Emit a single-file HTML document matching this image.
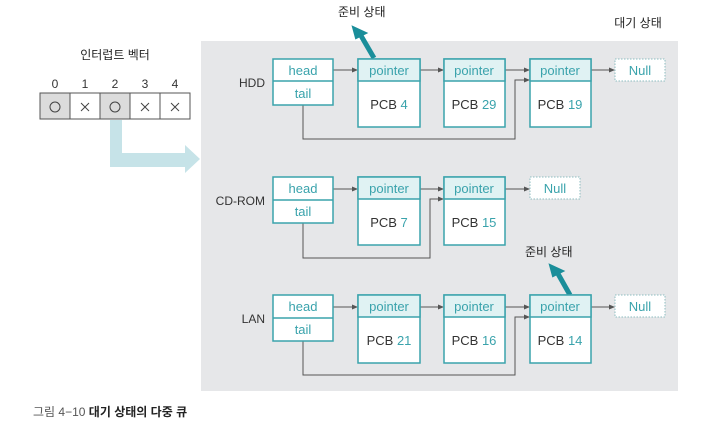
<!DOCTYPE html>
<html><head><meta charset="utf-8"><style>
body{margin:0;background:#fff;}
svg text{font-family:"Liberation Sans","Noto Sans CJK KR",sans-serif;}
</style></head><body>
<svg width="725" height="425" viewBox="0 0 725 425" xmlns="http://www.w3.org/2000/svg">
<defs>
<marker id="a" markerWidth="6" markerHeight="6" refX="5" refY="3" orient="auto" markerUnits="userSpaceOnUse"><path d="M0,0.5 L6,3 L0,5.5z" fill="#555"/></marker>
</defs>
<rect x="201" y="41" width="477" height="350" fill="#e6e7e9"/>
<text x="638" y="27" font-size="12" fill="#222" text-anchor="middle">대기 상태</text>
<text x="115" y="59" font-size="12" fill="#222" text-anchor="middle">인터럽트 벡터</text>
<g font-size="12" fill="#333" text-anchor="middle">
<text x="55" y="88">0</text><text x="85" y="88">1</text><text x="115" y="88">2</text><text x="145" y="88">3</text><text x="175" y="88">4</text>
</g>
<rect x="40" y="93" width="30" height="26" fill="#dcdcdc" stroke="#555"/>
<rect x="70" y="93" width="30" height="26" fill="#fff" stroke="#555"/>
<rect x="100" y="93" width="30" height="26" fill="#dcdcdc" stroke="#555"/>
<rect x="130" y="93" width="30" height="26" fill="#fff" stroke="#555"/>
<rect x="160" y="93" width="30" height="26" fill="#fff" stroke="#555"/>
<g fill="none" stroke="#444" stroke-width="1">
<circle cx="55" cy="107" r="5"/><circle cx="115" cy="107" r="5"/>
<path d="M81,103 L89,111 M89,103 L81,111"/>
<path d="M141,103 L149,111 M149,103 L141,111"/>
<path d="M171,103 L179,111 M179,103 L171,111"/>
</g>
<path d="M110,120 H122 V153 H185 V145 L200,159 L185,173 V167 H110 Z" fill="#c6e3e8"/>
<text x="338" y="16" font-size="12" fill="#222">준비 상태</text>
<path d="M374,58 L360,34" stroke="#1a8e9a" stroke-width="5"/>
<path d="M353,27 L366,33 L356,38 Z" fill="#1a8e9a" stroke="#1a8e9a" stroke-width="2"/>
<text x="525" y="256" font-size="12" fill="#222">준비 상태</text>
<path d="M570,295 L557,272" stroke="#1a8e9a" stroke-width="5"/>
<path d="M550,265 L563,271 L553,276 Z" fill="#1a8e9a" stroke="#1a8e9a" stroke-width="2"/>
<g stroke="#555" stroke-width="1" fill="none">
<path d="M333,70 H357" marker-end="url(#a)"/><path d="M420,70 H443" marker-end="url(#a)"/><path d="M505,70 H529" marker-end="url(#a)"/><path d="M591,70 H614" marker-end="url(#a)"/>
<path d="M303,105 V139 H515 V80 H529" marker-end="url(#a)"/>
<path d="M333,189 H357" marker-end="url(#a)"/><path d="M420,189 H443" marker-end="url(#a)"/><path d="M505,189 H529" marker-end="url(#a)"/>
<path d="M303,223 V258 H430 V199 H443" marker-end="url(#a)"/>
<path d="M333,307 H357" marker-end="url(#a)"/><path d="M420,307 H443" marker-end="url(#a)"/><path d="M505,307 H529" marker-end="url(#a)"/><path d="M591,307 H614" marker-end="url(#a)"/>
<path d="M303,341 V375 H515 V317 H529" marker-end="url(#a)"/>
</g>
<g font-size="12" fill="#333" text-anchor="end">
<text x="265" y="87">HDD</text><text x="265" y="205">CD-ROM</text><text x="265" y="323">LAN</text>
</g>
<g stroke="#3aa3ac" stroke-width="1.5" fill="#fff">
<rect x="273" y="59" width="60" height="46"/><line x1="273" y1="81" x2="333" y2="81"/>
<rect x="273" y="177" width="60" height="46"/><line x1="273" y1="200" x2="333" y2="200"/>
<rect x="273" y="295" width="60" height="46"/><line x1="273" y1="318" x2="333" y2="318"/>
</g>
<g font-size="13" fill="#3aa3ac" text-anchor="middle">
<text x="303" y="75">head</text><text x="303" y="98">tail</text>
<text x="303" y="193">head</text><text x="303" y="216">tail</text>
<text x="303" y="311">head</text><text x="303" y="334">tail</text>
</g>
<g stroke="#3aa3ac" stroke-width="1.5">
<rect x="358" y="59" width="62" height="68" fill="#fff"/><rect x="358" y="59" width="62" height="22" fill="#e0f2f3"/>
<rect x="444" y="59" width="61" height="68" fill="#fff"/><rect x="444" y="59" width="61" height="22" fill="#e0f2f3"/>
<rect x="530" y="59" width="61" height="68" fill="#fff"/><rect x="530" y="59" width="61" height="22" fill="#e0f2f3"/>
<rect x="358" y="177" width="62" height="68" fill="#fff"/><rect x="358" y="177" width="62" height="22" fill="#e0f2f3"/>
<rect x="444" y="177" width="61" height="68" fill="#fff"/><rect x="444" y="177" width="61" height="22" fill="#e0f2f3"/>
<rect x="358" y="295" width="62" height="68" fill="#fff"/><rect x="358" y="295" width="62" height="22" fill="#e0f2f3"/>
<rect x="444" y="295" width="61" height="68" fill="#fff"/><rect x="444" y="295" width="61" height="22" fill="#e0f2f3"/>
<rect x="530" y="295" width="61" height="68" fill="#fff"/><rect x="530" y="295" width="61" height="22" fill="#e0f2f3"/>
</g>
<g stroke="#8cbcc0" stroke-dasharray="1.5,1.5" fill="#fff">
<rect x="615" y="59" width="50" height="22"/><rect x="530" y="177" width="50" height="22"/><rect x="615" y="295" width="50" height="22"/>
</g>
<g font-size="13" fill="#3aa3ac" text-anchor="middle">
<text x="389" y="75">pointer</text><text x="474" y="75">pointer</text><text x="560" y="75">pointer</text><text x="640" y="75">Null</text>
<text x="389" y="193">pointer</text><text x="474" y="193">pointer</text><text x="555" y="193">Null</text>
<text x="389" y="311">pointer</text><text x="474" y="311">pointer</text><text x="560" y="311">pointer</text><text x="640" y="311">Null</text>
</g>
<g font-size="13" fill="#333" text-anchor="middle">
<text x="389" y="109">PCB <tspan fill="#3aa3ac">4</tspan></text>
<text x="474" y="109">PCB <tspan fill="#3aa3ac">29</tspan></text>
<text x="560" y="109">PCB <tspan fill="#3aa3ac">19</tspan></text>
<text x="389" y="227">PCB <tspan fill="#3aa3ac">7</tspan></text>
<text x="474" y="227">PCB <tspan fill="#3aa3ac">15</tspan></text>
<text x="389" y="345">PCB <tspan fill="#3aa3ac">21</tspan></text>
<text x="474" y="345">PCB <tspan fill="#3aa3ac">16</tspan></text>
<text x="560" y="345">PCB <tspan fill="#3aa3ac">14</tspan></text>
</g>
<text x="33" y="416" font-size="12" fill="#555">그림 4−10 <tspan font-weight="bold" fill="#222">대기 상태의 다중 큐</tspan></text>
</svg>
</body></html>
